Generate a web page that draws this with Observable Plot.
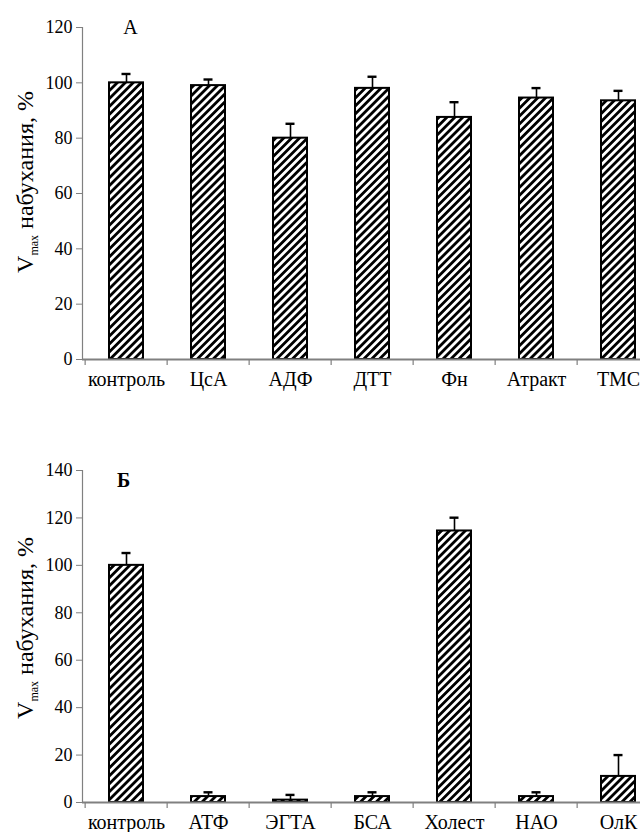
<!DOCTYPE html>
<html><head><meta charset="utf-8">
<script src="https://cdn.jsdelivr.net/npm/d3@7"></script>
<script src="https://cdn.jsdelivr.net/npm/@observablehq/plot@0.6"></script>
<style>
body{margin:0;background:#fff}
svg{display:block}
svg, svg text, svg g, svg tspan { font-family: "Liberation Serif", "DejaVu Serif", serif !important; }
</style>
</head><body><div id="chart"></div><script>
const catsA = ["контроль", "ЦсА", "АДФ", "ДТТ", "Фн", "Атракт", "ТМС"];
const valsA = [100, 99, 80, 98, 87.5, 94.5, 93.5];
const errA  = [3.2, 2.2, 5.2, 4.2, 5.5, 3.6, 3.6];
const ticksA = [0, 20, 40, 60, 80, 100, 120];

const catsB = ["контроль", "АТФ", "ЭГТА", "БСА", "Холест", "НАО", "ОлК"];
const valsB = [100, 2.5, 1, 2.5, 114.5, 2.5, 11];
const errB  = [5.2, 1.8, 2.2, 1.8, 5.6, 1.8, 9];
const ticksB = [0, 20, 40, 60, 80, 100, 120, 140];

const GRAY = "#808080";
const FONT = "'Liberation Serif', 'DejaVu Serif', serif";

function panel(cats, vals, errs, ticks, letter, bold, layout) {
  const data = cats.map((c, i) => ({cat: c, v: vals[i], hi: vals[i] + errs[i]}));
  const ymax = ticks[ticks.length - 1];
  const plot = Plot.plot({
    width: 640, height: layout.height,
    marginTop: layout.top, marginBottom: layout.bottom,
    marginLeft: 82, marginRight: 0,
    style: {background: "white", color: "black", overflow: "visible"},
    x: {domain: cats, range: [82, 661], paddingInner: 0.59, paddingOuter: 0.295, axis: null, label: null},
    y: {domain: [0, ymax], axis: null, label: null},
    marks: [
      Plot.frame({anchor: "left", stroke: GRAY, strokeWidth: 1.2}),
      Plot.axisY({ticks, tickSize: 6, tickPadding: 4, stroke: GRAY, fill: "black", fontSize: 18, label: null}),
      Plot.ruleX(data, {x: "cat", y1: "v", y2: "hi", stroke: "black", strokeWidth: 1.6}),
      Plot.tickY(data, {x: "cat", y: "hi", stroke: "black", strokeWidth: 2.4, insetLeft: 12.5, insetRight: 12.5}),
      Plot.barY(data, {x: "cat", y: "v", fill: "url(#hatch)", stroke: "black", strokeWidth: 2}),
      Plot.ruleX(cats, {x: d => d, y1: 0, y2: -ymax / 55, dx: -41.36, stroke: GRAY, strokeWidth: 1.2}),
      Plot.ruleY([0], {stroke: GRAY, strokeWidth: 2.2}),
      Plot.axisX({tickSize: 0, tickPadding: 12, fontSize: 20, fill: "black", label: null}),
      Plot.text([letter], {x: () => cats[0], y: ymax, text: d => d, dx: layout.ldx, dy: layout.ldy,
        fontSize: 20, fontWeight: bold ? "bold" : "normal", fill: "black"})
    ]
  });
  plot.style.fontFamily = FONT;
  const svg = d3.select(plot);
  const lab = svg.append("text")
    .attr("transform", `translate(33,${layout.labY}) rotate(-90)`)
    .attr("text-anchor", "middle")
    .style("font-size", "24px").attr("fill", "black");
  lab.append("tspan").text("V");
  lab.append("tspan").style("font-size", "12px").attr("dy", 5).text("max");
  lab.append("tspan").attr("dy", -5).text(" набухания, %");
  return plot;
}

const a = panel(catsA, valsA, errA, ticksA, "А", false, {height: 416, top: 27, bottom: 57, labY: 182, ldx: 4, ldy: 0});
const b = panel(catsB, valsB, errB, ticksB, "Б", true, {height: 416, top: 54, bottom: 30, labY: 212, ldx: -3, ldy: 10});

const defs = d3.select(a).insert("defs", ":first-child");
const pat = defs.append("pattern").attr("id", "hatch").attr("patternUnits", "userSpaceOnUse")
  .attr("width", 5.6).attr("height", 5.6).attr("patternTransform", "rotate(45)");
pat.append("rect").attr("width", 5.6).attr("height", 5.6).attr("fill", "white");
pat.append("rect").attr("width", 2.8).attr("height", 5.6).attr("fill", "black");

document.getElementById("chart").append(a, b);
</script></body></html>
